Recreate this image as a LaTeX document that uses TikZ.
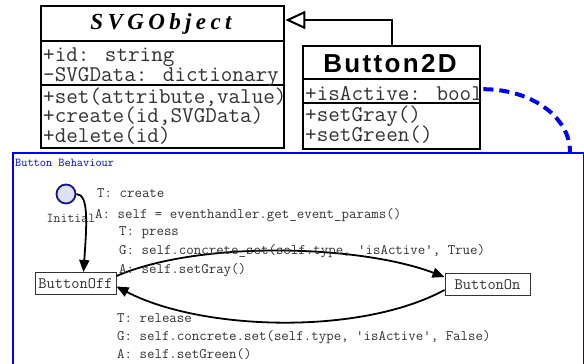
\documentclass[tikz,border=0pt]{standalone}
\usepackage{fontspec}
\setmainfont{Liberation Serif}
\newfontfamily\svgtitlefont[LetterSpace=19]{Liberation Serif}
\newfontfamily\btitlefont[LetterSpace=9]{Liberation Sans}
\usetikzlibrary{arrows.meta}
\definecolor{pureblue}{RGB}{0,0,255}
\definecolor{initfill}{RGB}{221,224,248}
\definecolor{initdraw}{RGB}{20,20,140}
\definecolor{txtgray}{RGB}{50,50,50}
\tikzset{
  classbox/.style={draw=black, line width=2.4pt, minimum width=#1, anchor=north west, inner sep=0pt},
  divider/.style={draw=black, line width=2pt},
  member/.style={anchor=base west, inner sep=0pt, text height=12pt, text depth=3pt, text=txtgray, font=\ttfamily\fontsize{22.5}{22.5}\selectfont},
  trans/.style={anchor=base west, inner sep=0pt, text height=9pt, text depth=2.5pt, text=txtgray, font=\ttfamily\fontsize{14.5}{14.5}\selectfont},
  statebox/.style={draw=black!80, line width=1pt, minimum height=22pt, inner sep=0pt, text=txtgray, font=\ttfamily\fontsize{16}{16}\selectfont},
  transarrow/.style={draw=black, line width=1.8pt, -{Triangle[length=12pt,width=10pt]}},
  inherit/.style={draw=black, line width=2pt, -{Triangle[open,length=20pt,width=18pt,fill=white]}},
  assoc/.style={draw=pureblue, line width=4pt, dash pattern=on 10pt off 6pt},
}
\begin{document}
\begin{tikzpicture}[x=1pt,y=1pt]
\useasboundingbox (0,0) rectangle (584,-364);
% behaviour frame
\node[draw=pureblue, line width=2pt, minimum width=571pt, minimum height=230pt, anchor=north west, inner sep=0pt] (frame) at (12,-152) {};
\node[anchor=base west, inner sep=0pt, text=pureblue, font=\ttfamily\fontsize{12}{12}\selectfont\addfontfeature{LetterSpace=22}] (fl) at (15,-166) {Button Behaviour};
% SVGObject class
\node[classbox=243pt, minimum height=142pt] (svg) at (40,-5) {};
\node[anchor=base, inner sep=0pt, font=\svgtitlefont\bfseries\itshape\fontsize{23}{23}\selectfont] (svgt) at (161,-30) {SVGObject};
\draw[divider] (40,-41) -- (283,-41);
\draw[divider] (40,-85) -- (283,-85);
\node[member] (m1) at (43,-61) {+id: string};
\node[member] (m2) at (43,-81) {-SVGData: dictionary};
\node[member] (m3) at (43,-103) {+set(attribute,value)};
\node[member] (m4) at (43,-122) {+create(id,SVGData)};
\node[member] (m5) at (43,-142) {+delete(id)};
% Button2D class
\node[classbox=177pt, minimum height=103pt] (b2d) at (302,-45) {};
\node[anchor=base, inner sep=0pt, font=\btitlefont\bfseries\fontsize{26}{26}\selectfont] (b2dt) at (390,-72) {Button2D};
\draw[divider] (302,-79) -- (479,-79);
\draw[divider] (302,-103) -- (479,-103);
\node[member] (n1) at (305,-100) {+isActive: bool};
\node[member] (n2) at (305,-121) {+setGray()};
\node[member] (n3) at (305,-141) {+setGreen()};
% inheritance
\draw[inherit] (b2d.north) |- ([yshift=-15pt]svg.north east);
% association to behaviour
\draw[assoc] ([xshift=2pt,yshift=8.5pt]b2d.east) .. controls +(48,0) and +(0,35) .. ([xshift=-15pt]frame.north east);
% state machine
\node[circle, draw=initdraw, fill=initfill, line width=1.8pt, minimum size=19pt, inner sep=0pt] (init) at (66,-194) {};
\node[anchor=base, inner sep=0pt, text=txtgray, font=\ttfamily\fontsize{13.5}{13.5}\selectfont] (initl) at (71,-222) {Initial};
\node[statebox, minimum width=81pt] (off) at (75.5,-283.5) {ButtonOff};
\node[statebox, minimum width=85pt] (on) at (487.5,-284.5) {ButtonOn};
\draw[transarrow] (init.east) .. controls +(13,0) and +(3,45) .. ([xshift=8pt]off.north);
\draw[transarrow] ([yshift=7.5pt]off.east) .. controls +(84,36) and +(-84,32) .. ([yshift=7.5pt]on.west);
\draw[transarrow] ([yshift=-5.5pt]on.west) .. controls +(-85,-46) and +(84,-44) .. ([yshift=-3pt]off.east);
% transition labels
\node[trans] (t1) at (97,-197) {T: create};
\node[trans] (t2) at (95,-218) {A: self = eventhandler.get\_event\_params()};
\node[trans] (t3) at (119,-235) {T: press};
\node[trans] (t4) at (119,-254) {G: self.concrete\_set(self.type, 'isActive', True)};
\node[trans] (t5) at (119,-273) {A: self.setGray()};
\node[trans] (t6) at (117,-322) {T: release};
\node[trans] (t7) at (117,-340) {G: self.concrete.set(self.type, 'isActive', False)};
\node[trans] (t8) at (117,-358) {A: self.setGreen()};
\end{tikzpicture}
\end{document}
